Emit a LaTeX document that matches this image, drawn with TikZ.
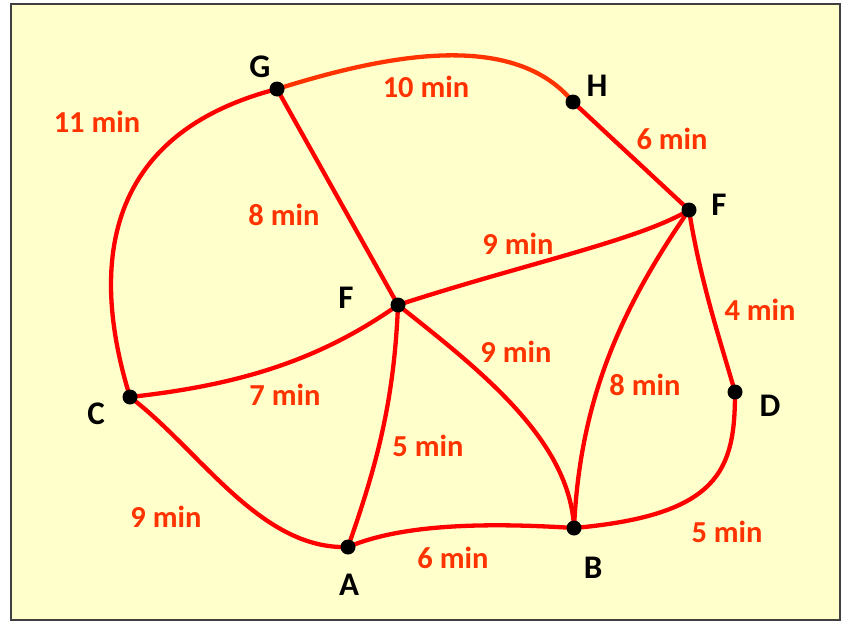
\documentclass[tikz,border=0pt]{standalone}
\usepackage{fontspec}
\setmainfont{Carlito}
\definecolor{bgyellow}{HTML}{FFFFCC}
\definecolor{edgered}{HTML}{FF0000}
\definecolor{edgeorange}{HTML}{FF3300}
\definecolor{labelorange}{HTML}{FF3300}
\begin{document}
\begin{tikzpicture}[x=1pt,y=-1pt,
  dot/.style={circle,fill=black,inner sep=0pt,minimum size=15pt},
  vname/.style={font=\fontsize{33}{35}\selectfont\bfseries,text=black,inner sep=0pt},
  tlabel/.style={font=\fontsize{30.5}{32}\selectfont\bfseries,text=labelorange,inner sep=0pt},
  road/.style={draw=edgered,line width=4.3pt,line cap=round}]
\useasboundingbox (0,0) rectangle (842,621);
\draw[fill=bgyellow,draw=black!75,line width=1.5pt] (11,4) rectangle (840,620);

% vertices
\coordinate (G) at (277,89);
\coordinate (H) at (573,102);
\coordinate (Fr) at (689,210);
\coordinate (Fc) at (398,305);
\coordinate (C) at (130,397);
\coordinate (D) at (735,392);
\coordinate (A) at (348,547);
\coordinate (B) at (574,528);

% roads
\draw[road,draw=edgeorange] (G) .. controls (370,60) and (510,25) .. (H);
\draw[road] (G) .. controls (80,140) and (100,300) .. (C);
\draw[road] (G) -- (Fc);
\draw[road] (H) -- (Fr);
\draw[road] (Fc) .. controls (520,265) and (640,240) .. (Fr);
\draw[road] (C) .. controls (240,385) and (320,360) .. (Fc);
\draw[road] (Fc) .. controls (394,405) and (375,470) .. (A);
\draw[road] (Fc) .. controls (480,370) and (570,440) .. (B);
\draw[road] (Fr) .. controls (620,310) and (580,400) .. (B);
\draw[road] (Fr) .. controls (700,280) and (720,340) .. (D);
\draw[road] (D) .. controls (735,470) and (720,515) .. (B);
\draw[road] (C) .. controls (200,450) and (260,550) .. (A);
\draw[road] (A) .. controls (400,525) and (480,522) .. (B);

% dots
\node[dot] (dG) at (G) {};
\node[dot] (dH) at (H) {};
\node[dot] (dFr) at (Fr) {};
\node[dot] (dFc) at (Fc) {};
\node[dot] (dC) at (C) {};
\node[dot] (dD) at (D) {};
\node[dot] (dA) at (A) {};
\node[dot] (dB) at (B) {};

% vertex names
\node[vname] (nG) at (260,67) {G};
\node[vname] (nH) at (597,86) {H};
\node[vname] (nFr) at (719,205) {F};
\node[vname] (nFc) at (346,298) {F};
\node[vname] (nC) at (96,414) {C};
\node[vname] (nD) at (770,406) {D};
\node[vname] (nA) at (349,585) {A};
\node[vname] (nB) at (593,568) {B};

% times
\node[tlabel] (tGH) at (426,87) {10 min};
\node[tlabel] (tGC) at (97,122) {11 min};
\node[tlabel] (tHF) at (672,139) {6 min};
\node[tlabel] (tGF) at (284,215) {8 min};
\node[tlabel] (tFF) at (518,244) {9 min};
\node[tlabel] (tFD) at (760,310) {4 min};
\node[tlabel] (tFB) at (516,352) {9 min};
\node[tlabel] (tFrB) at (645,385) {8 min};
\node[tlabel] (tCF) at (285,395) {7 min};
\node[tlabel] (tFA) at (428,446) {5 min};
\node[tlabel] (tCA) at (166,517) {9 min};
\node[tlabel] (tAB) at (453,558) {6 min};
\node[tlabel] (tDB) at (727,532) {5 min};
\end{tikzpicture}
\end{document}
